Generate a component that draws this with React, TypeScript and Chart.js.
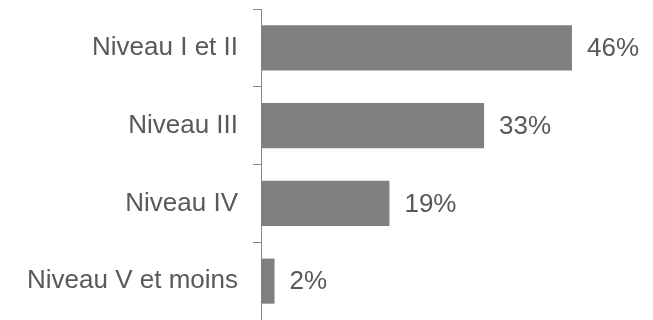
import React, { useEffect, useRef } from "react";
import { Chart, registerables } from "chart.js";

Chart.register(...registerables);

const categories = ["Niveau I et II", "Niveau III", "Niveau IV", "Niveau V et moins"];
const values = [46, 33, 19, 2];
const valueSuffix = "%";

const FONT = "'Liberation Sans', Arial, sans-serif";
const TEXT_COLOR = "#595959";
const BAR_COLOR = "#808080";
const AXIS_COLOR = "#868686";

const dataLabelPlugin = {
  id: "dataLabels",
  afterDatasetsDraw(chart: any) {
    const ctx = chart.ctx;
    const meta = chart.getDatasetMeta(0);
    ctx.save();
    ctx.font = `26px ${FONT}`;
    ctx.fillStyle = TEXT_COLOR;
    ctx.textAlign = "left";
    ctx.textBaseline = "middle";
    meta.data.forEach((bar: any, i: number) => {
      ctx.fillText(`${values[i]}${valueSuffix}`, bar.x + 15, bar.y + 1);
    });
    ctx.restore();
  },
};

export default function App() {
  const ref = useRef<HTMLCanvasElement>(null);
  useEffect(() => {
    if (!ref.current) return;
    const chart = new Chart(ref.current, {
      type: "bar",
      data: {
        labels: categories,
        datasets: [
          {
            data: values,
            backgroundColor: BAR_COLOR,
            borderWidth: 0,
            barPercentage: 0.58,
            categoryPercentage: 1,
          },
        ],
      },
      options: {
        indexAxis: "y",
        responsive: false,
        animation: false,
        layout: { padding: { top: 9, right: 54, bottom: -1, left: 0 } },
        plugins: { legend: { display: false }, tooltip: { enabled: false } },
        scales: {
          x: { display: false, min: 0, max: 50 },
          y: {
            afterFit(scale: any) {
              scale.width = 261;
              scale.paddingTop = 0;
              scale.paddingBottom = 0;
            },
            border: { display: true, color: AXIS_COLOR, width: 1 },
            grid: {
              display: true,
              offset: true,
              drawOnChartArea: false,
              drawTicks: true,
              tickLength: 8,
              color: AXIS_COLOR,
            },
            ticks: {
              padding: 15,
              color: TEXT_COLOR,
              font: { family: FONT, size: 26 },
            },
          },
        },
      },
      plugins: [dataLabelPlugin],
    });
    return () => chart.destroy();
  }, []);
  return (
    <div style={{ position: "fixed", left: 0, top: 0, width: 653, height: 320, background: "#fff" }}>
      <canvas ref={ref} width={653} height={320} />
    </div>
  );
}
